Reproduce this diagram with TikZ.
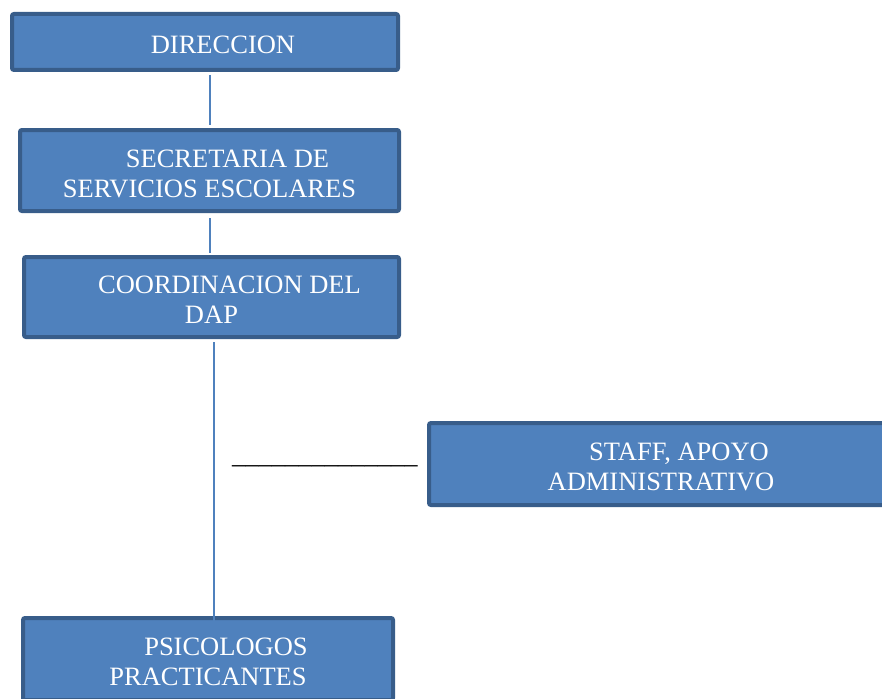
\documentclass[tikz,border=0pt]{standalone}
\usepackage{fontspec}
\setmainfont{Liberation Serif}
\usetikzlibrary{positioning,calc}
\definecolor{boxfill}{HTML}{4F81BD}
\definecolor{boxline}{HTML}{385D8A}
\newcommand{\lead}{\rule{0pt}{24pt}\hspace*{36pt}}
\begin{document}
\begin{tikzpicture}[x=1pt, y=-1pt, every node/.style={font=\fontsize{26.5}{30}\selectfont}, box/.style={draw=boxline, fill=boxfill, line width=4pt, rounded corners=2pt, text=white, align=center, inner sep=0pt}, link/.style={draw=boxfill, line width=1.6pt}]
\useasboundingbox (0,0) rectangle (882,698);
\clip (0,0) rectangle (882,698);
\node[box, minimum width=386pt, minimum height=56pt] (dir) at (205,42) {\lead DIRECCION};
\node[box, minimum width=379pt, minimum height=81pt] (sec) at (209.5,170.5) {\lead SECRETARIA DE\\SERVICIOS ESCOLARES};
\node[box, minimum width=375pt, minimum height=80pt] (coord) at (211.5,297) {\lead COORDINACION DEL\\DAP};
\node[box, minimum width=464pt, minimum height=82pt] (staff) at (661,464) {\lead STAFF, APOYO\\ADMINISTRATIVO};
\node[box, minimum width=370pt, minimum height=82pt] (psi) at (208,659) {\lead PSICOLOGOS\\PRACTICANTES};
\node[anchor=base west, inner sep=0pt] (raya) at (232,463) {\_\_\_\_\_\_\_\_\_\_\_\_\_\_};
\draw[link, shorten <=3pt, shorten >=3pt] ([xshift=0.5pt]dir.south -| sec.north) -- ([xshift=0.5pt]sec.north);
\draw[link, shorten <=5pt, shorten >=2pt] ([xshift=0.5pt]sec.south) -- ([xshift=0.5pt]sec.south |- coord.north);
\draw[link, shorten <=3pt, shorten >=-8pt] ([xshift=2.5pt]coord.south) -- ([xshift=6pt]psi.north);
\end{tikzpicture}
\end{document}
